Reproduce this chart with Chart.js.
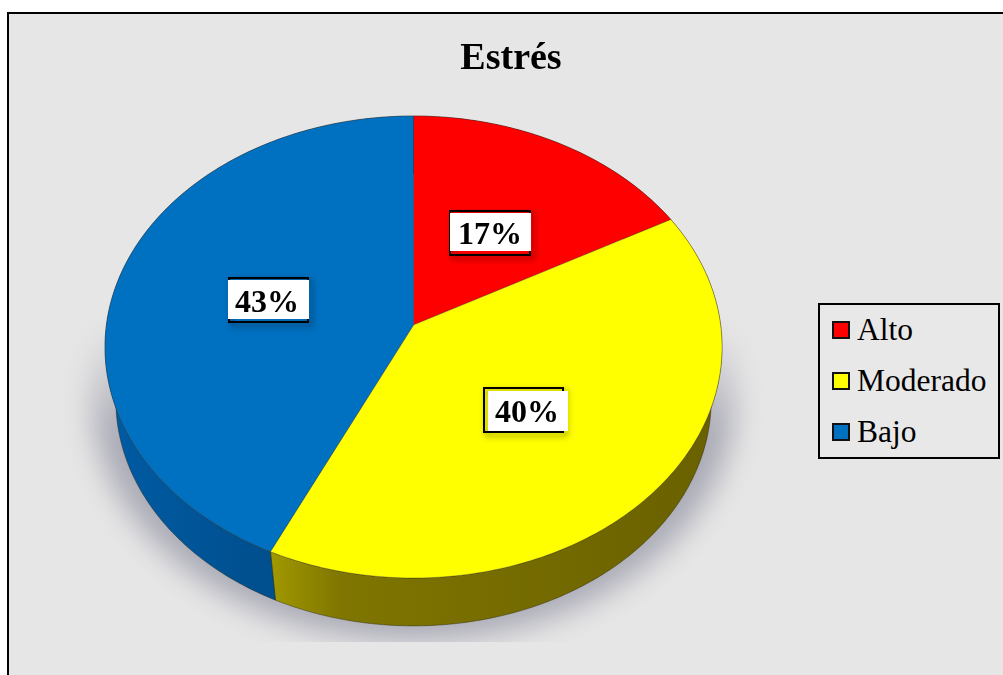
<!DOCTYPE html>
<html>
<head>
<meta charset="utf-8">
<title>Estrés</title>
<script src="https://cdn.jsdelivr.net/npm/chart.js@4"></script>
<style>
    body { margin: 0; background: #fff; overflow: hidden; }
    #marco { position: absolute; left: 7px; top: 12px; right: 0; bottom: 0; background: #e6e6e6; border-left: 2px solid #000; border-top: 2px solid #000; }
    canvas { position: absolute; left: 0; top: 0; }
    #leyenda { position: absolute; left: 818px; top: 303px; width: 178px; height: 152px; border: 2px solid #000; background: #e8e8e8; font: 31.5px "Liberation Serif", serif; color: #000; }
    .fila { position: absolute; left: 37px; white-space: nowrap; line-height: 36px; }
    .caja { position: absolute; left: 12px; width: 14px; height: 14px; border: 2px solid #111; }
</style>
</head>
<body>
<div id="marco"></div>
<canvas id="grafico" width="1003" height="675"></canvas>
<div id="leyenda"></div>

<script>
const categorias = ['Alto', 'Moderado', 'Bajo'];
const valores = [17, 40, 43];
const colores = ['#ff0000', '#ffff00', '#0070c0'];

// perspectiva del disco: circulo unidad -> pantalla
const CX = 413.5, A = 307.1, B = 197.95, C = 325, K = -0.0952;
const ALTO_BASE = { sx: 0.965, sy: 0.978, yc: 347, ybase: 400 };

function proyectar(r, ang) {
    const u = r * Math.cos(ang), v = r * Math.sin(ang);
    const w = 1 + K * v;
    return { x: CX + A * u / w, y: (B * v + C) / w };
}

function base(p) {
    return { x: CX + ALTO_BASE.sx * (p.x - CX), y: ALTO_BASE.ybase + ALTO_BASE.sy * (p.y - ALTO_BASE.yc) };
}

function curva(a1, a2) {
    const pts = [];
    const n = Math.ceil((a2 - a1) * 60);
    for (let i = 0; i <= n; i++) pts.push(proyectar(1, a1 + (a2 - a1) * i / n));
    return pts;
}

function degradadoLado(ctx, i) {
    const g = ctx.createLinearGradient(110, 0, 720, 0);
    if (i === 1) {
        g.addColorStop(0.25, '#a59c00');
        g.addColorStop(0.38, '#7f7500');
        g.addColorStop(1, '#696000');
    } else if (i === 2) {
        g.addColorStop(0, '#005ba3');
        g.addColorStop(0.25, '#004f8e');
    } else {
        g.addColorStop(0, '#8a0000');
        g.addColorStop(1, '#8a0000');
    }
    return g;
}

function sombra(ctx) {
    ctx.save();
    ctx.beginPath();
    ctx.rect(40, 300, 760, 342);
    ctx.clip();
    const g = ctx.createLinearGradient(0, 325, 0, 430);
    g.addColorStop(0, 'rgba(165,165,178,0)');
    g.addColorStop(1, 'rgba(165,165,178,0.9)');
    ctx.filter = 'blur(14px)';
    ctx.fillStyle = g;
    ctx.beginPath();
    ctx.ellipse(CX, 397, 322, 244, 0, 0, Math.PI * 2);
    ctx.fill();
    ctx.restore();
}

// ajuste de cada etiqueta respecto al punto medio de su sector
const etiquetas = [
    { dx: 3, dy: 0, tx: 0, linea: 12, borde: [-41, -22, 82, 46], blanco: [-40, -19, 81, 38] },
    { dx: -1, dy: 8, tx: 1, linea: 10, borde: [-43, -25, 81, 46], blanco: [-38, -21, 80, 40] },
    { dx: 0, dy: 0, tx: -1, linea: 11, borde: [-40, -24, 81, 46], blanco: [-40, -21, 81, 39] }
];

const disco3d = {
    id: 'disco3d',
    beforeDatasetsDraw(chart) {
        const ctx = chart.ctx;
        const arcos = chart.getDatasetMeta(0).data;
        sombra(ctx);

        // lateral
        arcos.forEach((arco, i) => {
            const pts = curva(arco.startAngle, arco.endAngle);
            ctx.beginPath();
            pts.forEach((p, j) => j ? ctx.lineTo(p.x, p.y) : ctx.moveTo(p.x, p.y));
            pts.slice().reverse().forEach(p => { const b = base(p); ctx.lineTo(b.x, b.y); });
            ctx.closePath();
            ctx.fillStyle = degradadoLado(ctx, i);
            ctx.fill();
            ctx.strokeStyle = 'rgba(30,30,0,0.4)';
            ctx.lineWidth = 1;
            ctx.stroke();
        });

        // cara superior
        arcos.forEach(arco => {
            const c = proyectar(0, 0);
            ctx.beginPath();
            ctx.moveTo(c.x, c.y);
            curva(arco.startAngle, arco.endAngle).forEach(p => ctx.lineTo(p.x, p.y));
            ctx.closePath();
            ctx.fillStyle = arco.options.backgroundColor;
            ctx.fill();
            ctx.strokeStyle = 'rgba(50,40,40,0.3)';
            ctx.lineWidth = 1;
            ctx.stroke();
        });

        // etiquetas de porcentaje
        arcos.forEach((arco, i) => {
            const e = etiquetas[i];
            const p = proyectar(0.49, (arco.startAngle + arco.endAngle) / 2);
            const x = Math.round(p.x + e.dx), y = Math.round(p.y + e.dy);
            ctx.save();
            ctx.shadowColor = 'rgba(0,0,0,0.55)';
            ctx.shadowBlur = 6;
            ctx.shadowOffsetX = 3;
            ctx.shadowOffsetY = 3;
            ctx.strokeStyle = '#000';
            ctx.lineWidth = 2;
            ctx.strokeRect(x + e.borde[0] + 1, y + e.borde[1] + 1, e.borde[2] - 2, e.borde[3] - 2);
            ctx.restore();
            ctx.fillStyle = '#fff';
            ctx.fillRect(x + e.blanco[0], y + e.blanco[1], e.blanco[2], e.blanco[3]);
            ctx.fillStyle = '#000';
            ctx.font = 'bold 32px "Liberation Serif", serif';
            ctx.textAlign = 'center';
            ctx.textBaseline = 'alphabetic';
            ctx.fillText(valores[i] + '%', x + e.tx, y + e.linea);
        });
        return false;
    }
};

new Chart(document.getElementById('grafico'), {
    type: 'pie',
    data: {
        labels: categorias,
        datasets: [{ data: valores, backgroundColor: colores, borderWidth: 0 }]
    },
    options: {
        responsive: false,
        animation: false,
        layout: { padding: { left: 19 } },
        plugins: {
            legend: { display: false },
            tooltip: { enabled: false },
            title: {
                display: true,
                text: 'Estrés',
                color: '#000',
                font: { family: '"Liberation Serif", serif', size: 38, weight: 'bold' },
                padding: { top: 36, bottom: 10 }
            }
        }
    },
    plugins: [disco3d]
});

// leyenda
const leyenda = document.getElementById('leyenda');
categorias.forEach((nombre, i) => {
    const top = 16 + i * 51;
    leyenda.insertAdjacentHTML('beforeend',
        `<div class="caja" style="top:${top}px;background:${colores[i]}"></div>` +
        `<div class="fila" style="top:${top - 9}px">${nombre}</div>`);
});
</script>
</body>
</html>
